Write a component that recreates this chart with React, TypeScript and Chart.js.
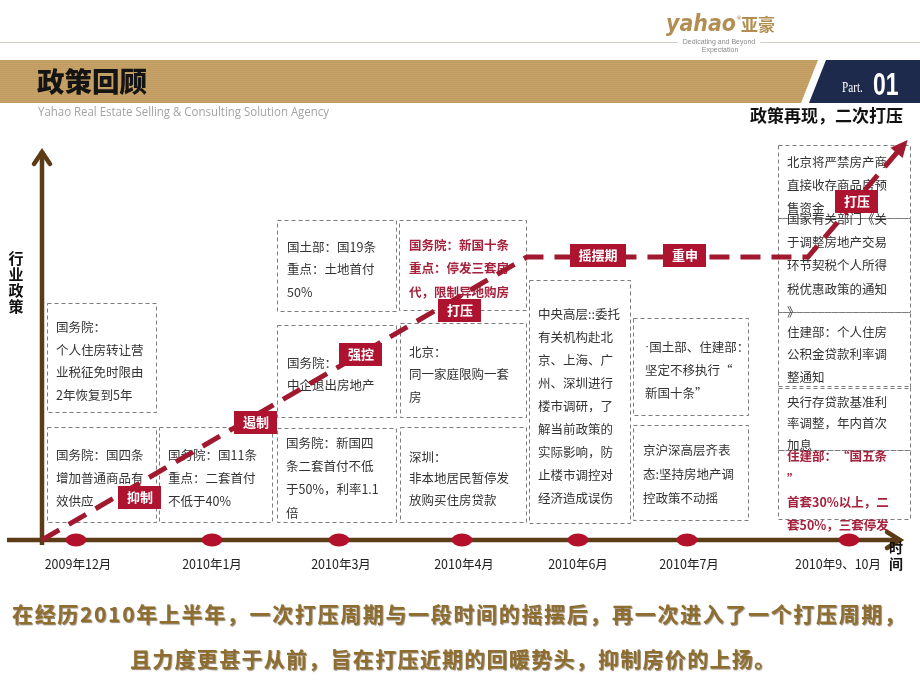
import React, { useEffect, useRef } from "react";
import { Chart, registerables } from "chart.js";

Chart.register(...registerables);

// ---------------- data ----------------
const periodLabels = ["2009年12月", "2010年1月", "2010年3月", "2010年4月", "2010年6月", "2010年7月", "2010年9、10月"];
// position of each period along the time axis (axis units)
const periodPos = [34, 170, 297, 420, 536, 645, 807];

// policy-intensity trend (time units / intensity units)
const trendTime = [0, 485, 766, 863];
const trendLevel = [0, 283, 283, 397];

// phase tags along the trend
const phaseNames = ["抑制", "遏制", "强控", "打压", "摇摆期", "重申", "打压"];
const phaseTime = [98, 214, 319, 418, 556, 643, 815];
const phaseLevel = [43, 118, 186, 230, 285, 285, 339];

// policy notes
const policyTexts: string[][] = [
  ["国务院：", "个人住房转让营", "业税征免时限由", "2年恢复到5年"],
  ["国务院：国四条", "增加普通商品有", "效供应"],
  ["国务院：国11条", "重点：二套首付", "不低于40%"],
  ["国土部：国19条", "重点：土地首付", "50%"],
  ["国务院：", "中企退出房地产"],
  ["国务院：新国四", "条二套首付不低", "于50%，利率1.1", "倍"],
  ["国务院：新国十条", "重点：停发三套房", "代，限制异地购房"],
  ["北京：", "同一家庭限购一套", "房"],
  ["深圳：", "非本地居民暂停发", "放购买住房贷款"],
  ["中央高层::委托", "有关机构赴北", "京、上海、广", "州、深圳进行", "楼市调研，了", "解当前政策的", "实际影响，防", "止楼市调控对", "经济造成误伤"],
  ["·国土部、住建部：", "坚定不移执行“", "新国十条”"],
  ["京沪深高层齐表", "态:坚持房地产调", "控政策不动摇"],
  ["北京将严禁房产商", "直接收存商品房预", "售资金"],
  ["国家有关部门《关", "于调整房地产交易", "环节契税个人所得", "税优惠政策的通知", "》"],
  ["住建部：个人住房", "公积金贷款利率调", "整通知"],
  ["央行存贷款基准利", "率调整，年内首次", "加息"],
  ["住建部：“国五条", "”", "首套30%以上，二", "套50%，三套停发"],
];
const policyHighlight = [false, false, false, false, false, false, true, false, false, false, false, false, false, false, false, false, true];

const titleText = "政策回顾";
const subtitleText = "Yahao Real Estate Selling & Consulting Solution Agency";
const headlineText = "政策再现，二次打压";
const yAxisTitle = ["行", "业", "政", "策"];
const xAxisTitle = ["时", "间"];
const summaryLines = [
  "在经历2010年上半年，一次打压周期与一段时间的摇摆后，再一次进入了一个打压周期，",
  "且力度更甚于从前，旨在打压近期的回暖势头，抑制房价的上扬。",
];

// ---------------- layout (pixels) ----------------
// [x0, y0, x1, y1, firstLineY, lineStep, textX]
const boxLayout: number[][] = [
  [47, 303, 156, 412, 327, 22.8, 56],
  [47, 427, 156, 522, 455, 23, 56],
  [159, 427, 272, 522, 455, 23, 168],
  [277, 220, 396, 311, 247, 22.5, 287],
  [277, 325, 396, 417, 363, 22, 287],
  [277, 428, 396, 522, 443, 23.3, 286],
  [399, 220, 526, 310, 245, 23.5, 409],
  [400, 323, 526, 417, 352, 22.5, 409],
  [400, 427, 526, 522, 457, 21.5, 409],
  [529, 280, 630, 523, 314, 23, 538],
  [633, 318, 748, 415, 347, 23, 645],
  [633, 425, 748, 520, 450, 24, 643],
  [778, 145, 910, 218, 162, 23, 787],
  [778, 218, 910, 312, 219, 23.3, 787],
  [778, 312, 910, 388, 332, 22.5, 787],
  [778, 386, 910, 450, 402, 21.5, 787],
  [778, 450, 910, 519, 456, 23, 787],
];
const labelShift = [2, 0, 2, 2, 0, 2, -11];

const CJK = "'Noto Sans CJK SC', 'Noto Sans', sans-serif";
const AXIS = "#5C3B17";
const RED = "#A0192F";
const TAG = "#AE1330";

function fillSpread(ctx: CanvasRenderingContext2D, text: string, x: number, y: number, width: number) {
  const chars = Array.from(text);
  let total = 0;
  const ws = chars.map((c) => {
    const w = ctx.measureText(c).width;
    total += w;
    return w;
  });
  const extra = (width - total) / (chars.length - 1);
  let cx = x;
  chars.forEach((c, i) => {
    ctx.fillText(c, cx, y);
    cx += ws[i] + extra;
  });
}

const backgroundPlugin = {
  id: "slideBackground",
  beforeDraw(chart: any) {
    const ctx: CanvasRenderingContext2D = chart.ctx;
    const W = chart.width;
    ctx.save();
    ctx.fillStyle = "#ffffff";
    ctx.fillRect(0, 0, W, chart.height);

    // ---- header ----
    ctx.strokeStyle = "#d2ccc2";
    ctx.lineWidth = 1;
    ctx.beginPath();
    ctx.moveTo(0, 42.5);
    ctx.lineTo(678, 42.5);
    ctx.moveTo(760, 42.5);
    ctx.lineTo(W, 42.5);
    ctx.stroke();

    ctx.fillStyle = "#B38E52";
    ctx.textBaseline = "alphabetic";
    ctx.textAlign = "left";
    ctx.font = "italic bold 23px 'DejaVu Sans', sans-serif";
    ctx.fillText("yahao", 666, 31, 70);
    ctx.font = "6px 'DejaVu Sans', sans-serif";
    ctx.fillText("®", 736, 20);
    ctx.font = `bold 17px ${CJK}`;
    ctx.fillText("亚豪", 741, 31);
    ctx.fillStyle = "#8a8a8a";
    ctx.textAlign = "center";
    ctx.textBaseline = "middle";
    ctx.font = "7px 'Liberation Sans', sans-serif";
    ctx.fillText("Dedicating and Beyond", 719, 42);
    ctx.fillText("Expectation", 720, 50);

    // gold band
    ctx.fillStyle = "#C7A267";
    ctx.beginPath();
    ctx.moveTo(0, 60);
    ctx.lineTo(818, 60);
    ctx.lineTo(801, 103);
    ctx.lineTo(0, 103);
    ctx.closePath();
    ctx.fill();
    ctx.save();
    ctx.clip();
    ctx.fillStyle = "rgba(120,90,40,0.07)";
    for (let yy = 60; yy < 103; yy += 2) ctx.fillRect(0, yy, 820, 1);
    ctx.restore();
    // navy tab
    ctx.fillStyle = "#1D2A4B";
    ctx.beginPath();
    ctx.moveTo(826, 60);
    ctx.lineTo(W, 60);
    ctx.lineTo(W, 103);
    ctx.lineTo(809, 103);
    ctx.closePath();
    ctx.fill();

    ctx.fillStyle = "#ffffff";
    ctx.textAlign = "left";
    ctx.textBaseline = "alphabetic";
    ctx.save();
    ctx.translate(842, 92);
    ctx.scale(0.8, 1);
    ctx.font = "14px 'Liberation Serif', serif";
    ctx.fillText("Part.", 0, 0);
    ctx.restore();
    ctx.save();
    ctx.translate(873, 95);
    ctx.scale(0.72, 1);
    ctx.font = "bold 32px 'Liberation Sans', sans-serif";
    ctx.fillText("01", 0, 0);
    ctx.restore();

    ctx.fillStyle = "#141414";
    ctx.textBaseline = "middle";
    ctx.font = `900 27.5px ${CJK}`;
    ctx.fillText(titleText, 37, 82);
    ctx.fillStyle = "#a3a3a3";
    ctx.font = `13px 'Open Sans', sans-serif`;
    ctx.fillText(subtitleText, 38, 112, 291);
    ctx.fillStyle = "#111111";
    ctx.textAlign = "right";
    ctx.font = `bold 17px ${CJK}`;
    ctx.fillText(headlineText, 903, 116, 164);

    // ---- policy boxes ----
    boxLayout.forEach((b, i) => {
      const [x0, y0, x1, y1, fy, step, tx] = b;
      ctx.save();
      ctx.strokeStyle = "#7c7c7c";
      ctx.lineWidth = 1;
      ctx.setLineDash([4, 3]);
      ctx.strokeRect(x0 + 0.5, y0 + 0.5, x1 - x0, y1 - y0);
      ctx.restore();
      const hi = policyHighlight[i];
      const font = `${hi ? "bold " : ""}12.5px ${CJK}`;
      ctx.fillStyle = hi ? "#A5213C" : "#333333";
      ctx.textAlign = "left";
      ctx.textBaseline = "middle";
      policyTexts[i].forEach((line, k) => {
        const y = fy + k * step;
        let x = tx;
        let rest = line;
        if (rest.startsWith("·")) {
          ctx.font = "12.5px 'Liberation Sans', sans-serif";
          ctx.fillText("·", x, y);
          x += ctx.measureText("·").width;
          rest = rest.slice(1);
        }
        ctx.font = font;
        ctx.fillText(rest, x, y);
      });
    });

    // ---- axes ----
    const area = chart.chartArea;
    const xs = chart.scales.x;
    const ys = chart.scales.y;
    const ox = xs.getPixelForValue(0);
    const oy = ys.getPixelForValue(0);
    ctx.strokeStyle = AXIS;
    ctx.lineWidth = 4.5;
    ctx.lineCap = "butt";
    ctx.beginPath();
    ctx.moveTo(ox, oy + 5);
    ctx.lineTo(ox, area.top + 1);
    ctx.moveTo(7, oy);
    ctx.lineTo(area.right - 6, oy);
    ctx.stroke();
    ctx.lineCap = "round";
    ctx.lineJoin = "miter";
    ctx.beginPath();
    ctx.moveTo(ox - 8, area.top + 14);
    ctx.lineTo(ox, area.top + 2);
    ctx.lineTo(ox + 8, area.top + 14);
    ctx.moveTo(area.right - 18, oy - 8);
    ctx.lineTo(area.right - 5, oy);
    ctx.lineTo(area.right - 18, oy + 8);
    ctx.stroke();

    ctx.fillStyle = "#111111";
    ctx.textAlign = "center";
    ctx.textBaseline = "middle";
    ctx.font = `bold 15px ${CJK}`;
    yAxisTitle.forEach((c, i) => ctx.fillText(c, 16, 258 + i * 16));
    ctx.font = `bold 14px ${CJK}`;
    xAxisTitle.forEach((c, i) => ctx.fillText(c, 896, 548 + i * 16));

    // period labels
    ctx.fillStyle = "#222222";
    ctx.font = `12.5px ${CJK}`;
    periodLabels.forEach((t, i) => {
      ctx.fillText(t, xs.getPixelForValue(periodPos[i]) + labelShift[i], oy + 24);
    });

    // ---- summary ----
    ctx.save();
    ctx.font = `bold 21px ${CJK}`;
    ctx.textAlign = "left";
    ctx.fillStyle = "#8E6D2F";
    ctx.shadowColor = "rgba(60,40,10,0.55)";
    ctx.shadowOffsetX = 1;
    ctx.shadowOffsetY = 1.5;
    ctx.shadowBlur = 1;
    fillSpread(ctx, summaryLines[0], 12, 614, 893);
    fillSpread(ctx, summaryLines[1], 130, 659, 645);
    ctx.restore();

    ctx.restore();
  },
  afterDatasetsDraw(chart: any) {
    const ctx: CanvasRenderingContext2D = chart.ctx;
    const xs = chart.scales.x;
    const ys = chart.scales.y;
    ctx.save();
    // arrow head on trend
    const n = trendTime.length;
    const tx = xs.getPixelForValue(trendTime[n - 1]);
    const ty = ys.getPixelForValue(trendLevel[n - 1]);
    const px = xs.getPixelForValue(trendTime[n - 2]);
    const py = ys.getPixelForValue(trendLevel[n - 2]);
    const ang = Math.atan2(ty - py, tx - px);
    ctx.fillStyle = RED;
    ctx.translate(tx, ty);
    ctx.rotate(ang);
    ctx.beginPath();
    ctx.moveTo(4, 0);
    ctx.lineTo(-13, -8);
    ctx.lineTo(-13, 8);
    ctx.closePath();
    ctx.fill();
    ctx.restore();

    // phase tags
    ctx.save();
    ctx.font = `bold 13px ${CJK}`;
    ctx.textAlign = "center";
    ctx.textBaseline = "middle";
    phaseNames.forEach((name, i) => {
      const cx = xs.getPixelForValue(phaseTime[i]);
      const cy = ys.getPixelForValue(phaseLevel[i]);
      const w = ctx.measureText(name).width + 17;
      const h = 23;
      ctx.fillStyle = TAG;
      ctx.fillRect(Math.round(cx - w / 2), Math.round(cy - h / 2), Math.round(w), h);
      ctx.fillStyle = "#ffffff";
      ctx.fillText(name, cx, cy + 0.5);
    });
    ctx.restore();
  },
};

function makeDot(): HTMLCanvasElement {
  const c = document.createElement("canvas");
  c.width = 22;
  c.height = 14;
  const g = c.getContext("2d")!;
  g.fillStyle = "#B3102C";
  g.beginPath();
  g.ellipse(11, 7, 10.5, 6.5, 0, 0, Math.PI * 2);
  g.fill();
  return c;
}

export default function App() {
  const ref = useRef<HTMLCanvasElement | null>(null);
  useEffect(() => {
    if (!ref.current) return;
    const dot = makeDot();
    const chart = new Chart(ref.current, {
      type: "line",
      data: {
        datasets: [
          {
            label: "政策力度",
            data: trendTime.map((t, i) => ({ x: t, y: trendLevel[i] })),
            borderColor: RED,
            borderWidth: 5,
            borderDash: [20, 11],
            borderCapStyle: "butt",
            pointRadius: 0,
            tension: 0,
            fill: false,
            clip: false,
          } as any,
          {
            label: "时间节点",
            data: periodPos.map((p) => ({ x: p, y: 0 })),
            showLine: false,
            pointStyle: dot as any,
            pointRadius: 7,
            clip: false,
          } as any,
        ],
      },
      options: {
        responsive: false,
        animation: false,
        events: [],
        layout: { padding: { left: 42, right: 15, top: 150, bottom: 150 } },
        scales: {
          x: { type: "linear", min: 0, max: 863, display: false },
          y: { type: "linear", min: 0, max: 390, display: false },
        },
        plugins: { legend: { display: false }, tooltip: { enabled: false } },
      },
      plugins: [backgroundPlugin as any],
    });
    return () => chart.destroy();
  }, []);
  return (
    <div style={{ position: "absolute", left: 0, top: 0, width: 920, height: 690, background: "#fff" }}>
      <canvas ref={ref} width={920} height={690} style={{ display: "block", width: 920, height: 690 }} />
    </div>
  );
}
